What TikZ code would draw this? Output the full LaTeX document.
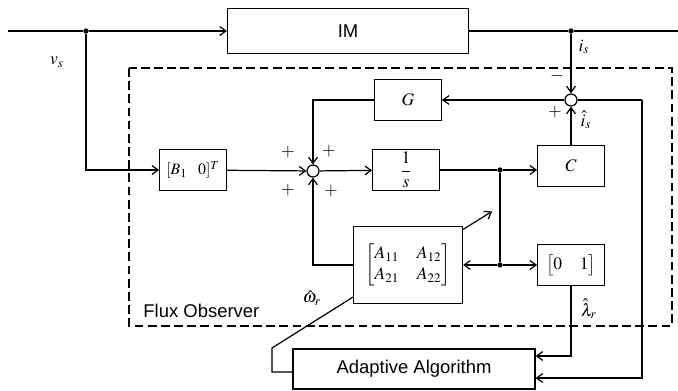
\documentclass[tikz,border=0pt]{standalone}
\usepackage{amsmath,amssymb}
\usepackage{mathptmx}
\usepackage{fontspec}
\setsansfont{Liberation Sans}
\usetikzlibrary{arrows.meta, calc}

\begin{document}
\begin{tikzpicture}[x=0.02cm, y=-0.02cm, line width=0.7pt, >={Straight Barb[length=3.5pt,width=5pt]},
	blk/.style={draw, inner sep=0pt, minimum width=1.33cm, minimum height=0.82cm},
	sum/.style={draw, circle, inner sep=0pt, minimum size=0.24cm},
	dot/.style={circle, fill, inner sep=0pt, minimum size=3pt},
	lbl/.style={font=\fontsize{10.5}{12}\selectfont\sffamily}]
			\useasboundingbox (0,0) rectangle (678,391);
			% observer frame
			\draw[dash pattern=on 5pt off 2.5pt] (129,68) rectangle (672,326);
			\node[lbl, anchor=west] (fo) at (137,311) {Flux Observer};
			% blocks
			\node[blk, lbl, minimum width=4.82cm, minimum height=0.9cm] (im) at (348,31) {IM};
			\node[blk] (b) at (193,170) {\small$[B_1\ \ 0]^T$};
			\node[blk] (g) at (408,100) {$G$};
			\node[blk] (integ) at (406,170) {$\dfrac{1}{s}$};
			\node[blk] (c) at (571,166) {$C$};
			\node[blk, minimum width=2.18cm, minimum height=1.54cm] (a) at (408,265) {$\begin{bmatrix} A_{11} & A_{12}\\ A_{21} & A_{22}\end{bmatrix}$};
			\node[blk] (sel) at (571,265) {$\begin{bmatrix}0 & 1\end{bmatrix}$};
			\node[blk, lbl, minimum width=4.84cm, minimum height=0.8cm] (ada) at (414,369) {Adaptive Algorithm};
			\node[sum] (s1) at (313,171) {};
			\node[sum] (s2) at (571,100) {};
			% junctions
			\node[dot] (jv) at (86,31) {};
			\node[dot] (ji) at (571,31) {};
			\node[dot] (j1) at (500,170) {};
			\node[dot] (j2) at (500,265) {};
			\coordinate (vin) at (8,31);
			\coordinate (out) at (678,31);
			\coordinate (k1) at (642,100);
			\coordinate (w1) at (272,372);
			\coordinate (w2) at (272,348);
			% signals
			\draw (vin) -- (jv);
			\draw[->] (jv) -- (im);
			\draw[->] (jv) |- (b);
			\draw[->] (b) -- (s1);
			\draw (im) -- (ji) -- (out);
			\draw[->] (ji) -- (s2);
			\draw[->] (s2) -- (g);
			\draw[->] (g) -| (s1);
			\draw[->] (s1) -- (integ);
			\draw (integ) -- (j1);
			\draw[->] (j1) -- (j1 -| c.west);
			\draw[->] (c) -- (s2);
			\draw (j1) -- (j2);
			\draw[->] (j2) -- (a);
			\draw[->] (j2) -- (sel);
			\draw[->] (a) -| (s1);
			\draw (s2) -- (k1);
			\draw[->] (k1) |- ($(ada.east)+(0,9)$);
			\draw[->] (sel) |- ($(ada.east)+(0,-13)$);
			\draw ($(ada.west)+(0,3)$) -- (w1) -- (w2) -- ($(a.south west)+(0,-7)$);
			\draw[->] ($(a.north east)+(0,3.5)$) -- ++(29,-18);
			% labels
			\node (vs) at (57,62) {$v_s$};
			\node (is) at (584,47) {$i_s$};
			\node (mn) at (557,76) {$\boldsymbol{-}$};
			\node (pl) at (555,112) {$\boldsymbol{+}$};
			\node (ish) at (586,120) {$\hat{i}_s$};
			\node (wr) at (312,298) {$\hat{\omega}_r$};
			\node (lr) at (589,309) {$\hat{\lambda}_r$};
			\foreach \px/\py [count=\k] in {288/152, 329/151, 288/190, 331/191}
				\node (p\k) at (\px,\py) {$\boldsymbol{+}$};
		\end{tikzpicture}
\end{document}
